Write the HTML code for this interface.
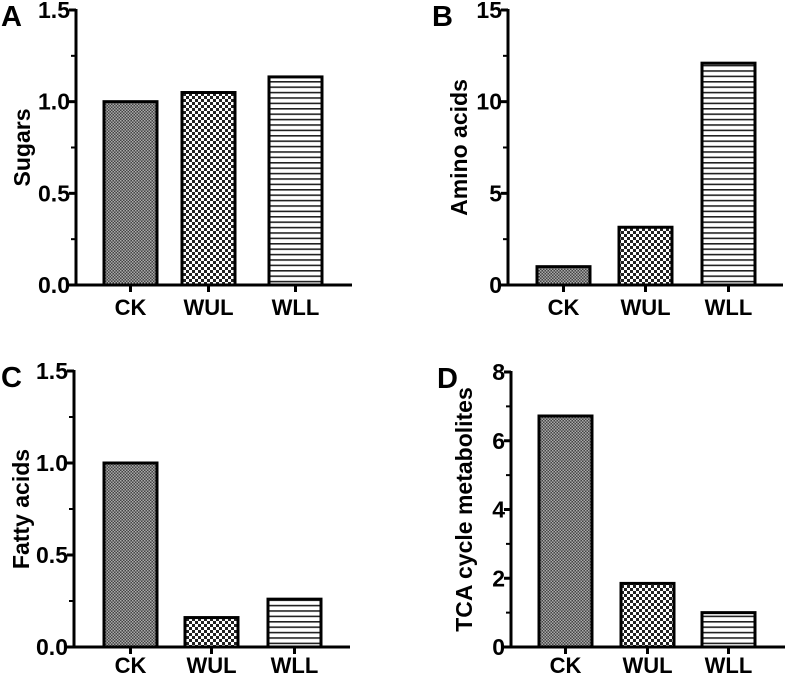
<!DOCTYPE html>
<html><head><meta charset="utf-8"><style>
html,body{margin:0;padding:0;background:#fff;width:787px;height:677px;overflow:hidden}
svg text{font-family:"Liberation Sans",Arial,sans-serif;font-weight:bold;fill:#000}
</style></head><body>
<svg id="fig" width="787" height="677" viewBox="0 0 787 677" xmlns="http://www.w3.org/2000/svg">
<defs>
<pattern id="pFine" width="3" height="3" patternUnits="userSpaceOnUse"><rect width="3" height="3" fill="#444"/><rect width="1.5" height="1.5" fill="#aaa"/><rect x="1.5" y="1.5" width="1.5" height="1.5" fill="#aaa"/></pattern>
<pattern id="pCheck" width="6" height="6" patternUnits="userSpaceOnUse"><rect width="6" height="6" fill="#fff"/><rect width="3" height="3" fill="#222"/><rect x="3" y="3" width="3" height="3" fill="#222"/></pattern>
<pattern id="pLines" width="6" height="5.4" patternUnits="userSpaceOnUse"><rect width="6" height="5.4" fill="#fff"/><rect y="0" width="6" height="1.6" fill="#222"/></pattern>
</defs>
</svg>
<script>
const categories = ["CK","WUL","WLL"];
const sugarsValues = [1.0, 1.05, 1.135];
const aminoValues = [1.0, 3.15, 12.1];
const fattyValues = [1.0, 0.16, 0.26];
const tcaValues = [6.72, 1.85, 1.0];
const tickA = ["0.0","0.5","1.0","1.5"];
const tickB = ["0","5","10","15"];
const tickC = ["0.0","0.5","1.0","1.5"];
const tickD = ["0","2","4","6","8"];

const svg = document.getElementById('fig');
const NS = 'http://www.w3.org/2000/svg';
function mk(tag, attrs, parent){const e=document.createElementNS(NS,tag);for(const k in attrs)e.setAttribute(k,attrs[k]);(parent||svg).appendChild(e);return e;}
const fills=['url(#pFine)','url(#pCheck)','url(#pLines)'];

function panel(p){
  const g=mk('g',{});
  
  
  const y=v=>p.bottom-(v/p.max)*(p.bottom-p.top);
  const lt=mk('text',{x:p.letterX,y:p.top+16,'font-size':29},g);lt.textContent=p.letter;
  
  
  p.values.forEach((v,i)=>{
    const r=mk('rect',{x:p.barX[i],y:y(v),width:p.barW,height:p.bottom-y(v),fill:fills[i],stroke:'#000','stroke-width':3},g);
    
    
  });
  const ya=mk('line',{x1:p.axisX,y1:p.top-1,x2:p.axisX,y2:p.bottom+1.5,stroke:'#000','stroke-width':3},g);
  
  
  const xa=mk('line',{x1:p.axisX-1.5,y1:p.bottom,x2:p.axisEnd,y2:p.bottom,stroke:'#000','stroke-width':3},g);
  
  
  const n=p.ticks.length-1;
  p.ticks.forEach((t,i)=>{
    const v=p.max*i/n;
    mk('line',{x1:p.axisX-7,y1:y(v),x2:p.axisX,y2:y(v),stroke:'#000','stroke-width':3},g);
    const tx=mk('text',{x:p.axisX-6,y:y(v)+8,'font-size':23,'text-anchor':'end'},g);tx.textContent=t;
    
    
    if(i<n){mk('line',{x1:p.axisX-5,y1:y(v+p.max/n/2),x2:p.axisX,y2:y(v+p.max/n/2),stroke:'#000','stroke-width':2},g);}
  });
  categories.forEach((c,i)=>{
    const cx=p.barX[i]+p.barW/2;
    mk('line',{x1:cx,y1:p.bottom,x2:cx,y2:p.bottom+7,stroke:'#000','stroke-width':3},g);
    const tx=mk('text',{x:cx,y:p.bottom+p.labelDy,'font-size':22,'text-anchor':'middle'},g);tx.textContent=c;
    
    
  });
  const my=(p.top+p.bottom)/2;
  const tt=mk('text',{x:p.titleX,y:my,'font-size':23,'text-anchor':'middle',transform:`rotate(-90 ${p.titleX} ${my})`},g);tt.textContent=p.title;
  
  
}
panel({letter:'A',letterX:1,title:'Sugars',titleX:30,values:sugarsValues,ticks:tickA,max:1.5,top:10,bottom:285,axisX:76,axisEnd:352,barX:[104,182,269],barW:53,labelDy:30});
panel({letter:'B',letterX:432,title:'Amino acids',titleX:467,values:aminoValues,ticks:tickB,max:15,top:10,bottom:285,axisX:508,axisEnd:783,barX:[537,619,702],barW:53,labelDy:30});
panel({letter:'C',letterX:1,title:'Fatty acids',titleX:29,values:fattyValues,ticks:tickC,max:1.5,top:371,bottom:647,axisX:74,axisEnd:350,barX:[104,185,268],barW:53,labelDy:26});
panel({letter:'D',letterX:437,title:'TCA cycle metabolites',titleX:472,values:tcaValues,ticks:tickD,max:8,top:372,bottom:647,axisX:511,axisEnd:785,barX:[539,621,702],barW:53,labelDy:26});
</script>
</body></html>
